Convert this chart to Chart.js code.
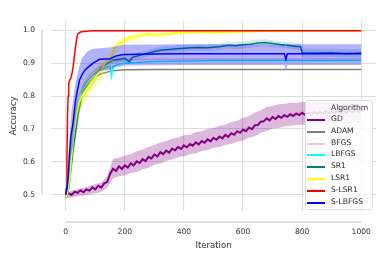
<!DOCTYPE html>
<html>
<head>
<meta charset="utf-8">
<script src="https://cdn.jsdelivr.net/npm/chart.js@4.4.1/dist/chart.umd.min.js"></script>
<style>
    body { margin: 0; background: #fff; }
    #wrap { position: relative; width: 390px; height: 260px; }
    #legend {
        position: absolute; left: 305px; top: 100px; width: 66px; height: 108px;
        border: 1px solid #dddddd; border-radius: 3px; background: rgba(255,255,255,0.85);
        font-family: "DejaVu Sans", sans-serif; font-size: 7.6px; color: #262626;
    }
    #legend .title { position: absolute; left: 25px; top: 2px; }
    #legend .row { position: absolute; left: 0; height: 10px; line-height: 10px; }
    #legend .sw { position: absolute; left: 1px; top: 5px; width: 18px; height: 0; border-top: 2px solid; }
    #legend .lbl { position: absolute; left: 25px; top: 0; white-space: nowrap; }
</style>
</head>
<body>
<div id="wrap">
    <canvas id="chart" width="390" height="260"></canvas>
    <div id="legend"></div>
</div>
<script>
const xTicks = [0, 200, 400, 600, 800, 1000]
const yTicks = [0.5, 0.6, 0.7, 0.8, 0.9, 1.0]

const algorithms = ["GD", "ADAM", "BFGS", "LBFGS", "SR1", "LSR1", "S-LSR1", "S-LBFGS"]
const colors = ["#800080", "#808080", "#ffc0cb", "#00ffff", "#008080", "#ffff00", "#ff0000", "#0000ff"]

// GD
const gdIter = [0,10,20,30,40,50,60,70,80,90,100,110,120,130,140,150,160,170,180,190,200,
    210,220,230,240,250,260,270,280,290,300,310,320,330,340,350,360,370,380,390,400,
    410,420,430,440,450,460,470,480,490,500,510,520,530,540,550,560,570,580,590,600,
    610,620,630,640,650,660,670,680,690,700,710,720,730,740,750,760,770,780,790,800,
    810,820,830,840,850,860,870,880,890,900,910,920,930,940,950,960,970,980,990,1000]
const gdAcc = [0.497,0.504,0.499,0.509,0.505,0.513,0.507,0.516,0.512,0.522,0.516,0.527,0.521,0.534,0.538,0.563,0.579,0.572,0.586,0.578,0.589,
    0.582,0.595,0.589,0.601,0.596,0.608,0.602,0.615,0.610,0.622,0.616,0.629,0.623,0.634,0.628,0.640,0.635,0.645,0.639,0.650,
    0.644,0.654,0.649,0.659,0.653,0.663,0.658,0.668,0.662,0.673,0.667,0.677,0.671,0.682,0.676,0.687,0.682,0.693,0.688,0.698,
    0.693,0.704,0.699,0.711,0.712,0.722,0.723,0.732,0.726,0.736,0.730,0.739,0.734,0.742,0.737,0.745,0.739,0.747,0.742,0.749,
    0.743,0.750,0.744,0.751,0.745,0.752,0.746,0.753,0.747,0.754,0.748,0.755,0.749,0.756,0.750,0.757,0.751,0.758,0.752,0.757]
const gdBandIter = [0,20,40,60,80,100,120,140,160,180,200,220,240,260,280,300,320,340,360,380,400,
    420,440,460,480,500,520,540,560,580,600,620,640,660,680,700,720,740,760,780,800,
    820,840,860,880,900,920,940,960,980,1000]
const gdUpper = [0.505,0.512,0.517,0.521,0.526,0.532,0.537,0.556,0.609,0.612,0.619,0.623,0.632,0.637,0.645,0.651,0.659,0.663,0.670,0.674,0.681,
    0.683,0.690,0.693,0.700,0.703,0.710,0.713,0.721,0.725,0.734,0.739,0.750,0.757,0.767,0.770,0.775,0.776,0.780,0.779,0.783,
    0.781,0.784,0.782,0.785,0.783,0.786,0.784,0.787,0.785,0.788]
const gdLower = [0.488,0.491,0.496,0.497,0.501,0.504,0.508,0.521,0.549,0.556,0.559,0.566,0.569,0.577,0.582,0.591,0.595,0.603,0.607,0.614,0.617,
    0.623,0.626,0.633,0.636,0.642,0.645,0.651,0.654,0.661,0.665,0.673,0.678,0.688,0.694,0.701,0.703,0.708,0.709,0.712,0.713,
    0.714,0.715,0.716,0.716,0.717,0.717,0.718,0.718,0.719,0.719]

// ADAM, BFGS
const adamIter = [0,5,10,15,20,25,30,40,50,60,70,80,90,100,120,140,160,180,200,300,400,500,600,700,800,900,1000]
const adamAcc = [0.49,0.50,0.53,0.58,0.63,0.67,0.71,0.76,0.79,0.815,0.83,0.843,0.852,0.86,0.868,0.873,0.877,0.879,0.88,0.881,0.881,0.881,0.881,0.881,0.881,0.881,0.881]
const bfgsAcc = [0.49,0.50,0.54,0.60,0.65,0.69,0.73,0.78,0.81,0.835,0.85,0.862,0.872,0.88,0.892,0.90,0.905,0.908,0.91,0.912,0.913,0.913,0.913,0.913,0.913,0.913,0.913]

// LBFGS
const lbfgsIter = [0,5,10,15,20,25,30,40,50,60,70,80,90,100,120,140,150,155,160,180,200,300,400,500,600,700,800,900,1000]
const lbfgsAcc = [0.49,0.50,0.53,0.59,0.64,0.68,0.72,0.77,0.80,0.825,0.84,0.852,0.862,0.87,0.88,0.888,0.89,0.86,0.891,0.897,0.90,0.905,0.907,0.908,0.908,0.908,0.908,0.908,0.908]

// SR1
const sr1Iter = [0,5,10,15,20,25,30,36,42,50,58,70,87,100,108,125,142,160,180,200,215,225,250,275,300,
    325,350,375,400,425,450,475,500,525,550,575,600,625,650,675,700,725,750,775,795,800,850,900,950,1000]
const sr1Acc = [0.49,0.50,0.52,0.56,0.60,0.64,0.668,0.71,0.746,0.78,0.814,0.83,0.843,0.86,0.873,0.89,0.90,0.91,0.912,0.915,0.905,0.918,0.924,0.93,0.936,
    0.94,0.942,0.944,0.946,0.947,0.948,0.947,0.949,0.951,0.955,0.953,0.956,0.958,0.962,0.963,0.96,0.957,0.955,0.952,0.95,0.931,0.931,0.932,0.93,0.931]
const sr1Upper = [0.49,0.505,0.53,0.58,0.63,0.67,0.70,0.74,0.775,0.805,0.835,0.85,0.862,0.876,0.887,0.902,0.911,0.92,0.922,0.925,0.92,0.928,0.934,0.94,0.946,
    0.95,0.952,0.954,0.956,0.957,0.958,0.957,0.959,0.961,0.965,0.964,0.967,0.969,0.972,0.973,0.97,0.967,0.965,0.962,0.96,0.945,0.944,0.945,0.943,0.944]
const sr1Lower = [0.49,0.495,0.51,0.54,0.57,0.61,0.635,0.68,0.715,0.755,0.79,0.81,0.824,0.843,0.858,0.877,0.888,0.899,0.902,0.905,0.895,0.908,0.914,0.92,0.926,
    0.93,0.932,0.934,0.936,0.937,0.938,0.937,0.939,0.941,0.945,0.942,0.945,0.947,0.951,0.952,0.949,0.947,0.945,0.942,0.94,0.918,0.918,0.919,0.917,0.918]

// LSR1
const lsr1Iter = [0,5,10,13,18,25,30,36,45,58,70,87,100,110,120,135,154,165,177,190,200,222,250,278,300,340,400,453,500,600,700,800,900,1000]
const lsr1Acc = [0.49,0.50,0.53,0.552,0.60,0.668,0.71,0.746,0.78,0.805,0.822,0.843,0.858,0.872,0.878,0.905,0.918,0.945,0.958,0.965,0.968,0.98,0.984,0.989,0.986,0.989,0.993,0.995,0.994,0.996,0.998,0.999,0.999,0.999]
const lsr1Upper = [0.49,0.51,0.55,0.58,0.63,0.70,0.74,0.775,0.81,0.835,0.852,0.872,0.886,0.897,0.906,0.924,0.942,0.958,0.972,0.976,0.981,0.988,0.991,0.995,0.993,0.995,0.997,0.998,0.998,0.999,1.0,1.0,1.0,1.0]
const lsr1Lower = [0.49,0.49,0.51,0.525,0.57,0.635,0.68,0.715,0.75,0.775,0.79,0.812,0.828,0.84,0.852,0.875,0.895,0.918,0.942,0.946,0.958,0.968,0.975,0.982,0.978,0.982,0.988,0.991,0.99,0.993,0.996,0.998,0.998,0.998]

// S-LSR1
const slsr1Iter = [0,2,4,6,8,10,13,17,21,25,29,33,37,41,50,60,80,100,200,400,600,800,1000]
const slsr1Acc = [0.50,0.52,0.62,0.74,0.80,0.835,0.848,0.855,0.868,0.89,0.92,0.95,0.975,0.99,0.995,0.997,0.998,0.999,0.999,0.999,0.999,0.999,0.999]

// S-LBFGS
const slbfgsIter = [0,4,8,13,18,25,33,40,47,55,64,72,81,95,115,130,149,166,185,200,300,400,500,600,700,740,745,750,800,900,1000]
const slbfgsAcc = [0.50,0.52,0.55,0.63,0.68,0.72,0.785,0.82,0.85,0.865,0.878,0.885,0.892,0.902,0.912,0.913,0.913,0.921,0.925,0.927,0.928,0.929,0.929,0.929,0.929,0.929,0.912,0.929,0.929,0.929,0.929]
const slbfgsUpper = [0.50,0.53,0.58,0.68,0.74,0.79,0.84,0.868,0.895,0.915,0.925,0.935,0.94,0.944,0.946,0.947,0.948,0.952,0.955,0.956,0.957,0.958,0.958,0.958,0.958,0.958,0.95,0.958,0.958,0.958,0.958]
const slbfgsLower = [0.50,0.505,0.52,0.58,0.62,0.65,0.73,0.77,0.80,0.815,0.83,0.84,0.85,0.862,0.876,0.878,0.879,0.886,0.89,0.893,0.894,0.895,0.895,0.895,0.895,0.895,0.88,0.895,0.895,0.895,0.895]

function pts(xs, ys) {
    return xs.map((x, i) => ({x: x, y: ys[i]}))
}

function line(name, xs, ys, color, width) {
    return {label: name, data: pts(xs, ys), borderColor: color, borderWidth: width || 1.5, pointRadius: 0, fill: false}
}

function band(xs, up, low, fillColor) {
    return [
        {label: "", data: pts(xs, up), borderWidth: 0, pointRadius: 0, backgroundColor: fillColor, fill: "+1"},
        {label: "", data: pts(xs, low), borderWidth: 0, pointRadius: 0, fill: false}
    ]
}

let datasets = []
datasets.push(...band(gdBandIter, gdUpper, gdLower, "rgba(128,0,128,0.28)"))
datasets.push(line("GD", gdIter, gdAcc, colors[0], 2))
datasets.push(line("ADAM", adamIter, adamAcc, colors[1]))
datasets.push(line("BFGS", adamIter, bfgsAcc, colors[2]))
datasets.push(line("LBFGS", lbfgsIter, lbfgsAcc, colors[3]))
datasets.push(...band(sr1Iter, sr1Upper, sr1Lower, "rgba(0,128,128,0.18)"))
datasets.push(line("SR1", sr1Iter, sr1Acc, colors[4]))
datasets.push(...band(lsr1Iter, lsr1Upper, lsr1Lower, "rgba(255,255,0,0.3)"))
datasets.push(line("LSR1", lsr1Iter, lsr1Acc, colors[5]))
datasets.push(line("S-LSR1", slsr1Iter, slsr1Acc, colors[6]))
datasets.push(...band(slbfgsIter, slbfgsUpper, slbfgsLower, "rgba(0,0,255,0.3)"))
datasets.push(line("S-LBFGS", slbfgsIter, slbfgsAcc, colors[7]))
// matplotlib draws later series on top
datasets.forEach((d, i) => { d.order = datasets.length - i })

const spines = {
    id: "spines",
    afterDraw(chart) {
        let ctx = chart.ctx
        let xs = chart.scales.x
        let ys = chart.scales.y
        let area = chart.chartArea
        ctx.save()
        ctx.strokeStyle = "#cccccc"
        ctx.lineWidth = 1.25
        ctx.beginPath()
        ctx.moveTo(area.left - 9, ys.getPixelForValue(1.0))
        ctx.lineTo(area.left - 9, ys.getPixelForValue(0.5))
        ctx.moveTo(xs.getPixelForValue(0), area.bottom + 11)
        ctx.lineTo(xs.getPixelForValue(1000), area.bottom + 11)
        ctx.stroke()
        ctx.restore()
    }
}

const font = {family: "DejaVu Sans", size: 7.6}
const titleFont = {family: "DejaVu Sans", size: 8.5}

new Chart(document.getElementById("chart").getContext("2d"), {
    type: "line",
    data: {datasets: datasets},
    options: {
        responsive: false,
        animation: false,
        layout: {padding: {top: 13, right: 14, left: 0, bottom: 0}},
        plugins: {legend: {display: false}, tooltip: {enabled: false}},
        scales: {
            x: {
                type: "linear", min: -50, max: 1050,
                afterBuildTicks: s => { s.ticks = xTicks.map(v => ({value: v})) },
                afterFit: s => { s.height = 49 },
                grid: {color: "#dddddd", lineWidth: 1.1, drawTicks: false},
                border: {display: false},
                ticks: {font: font, color: "#333333", padding: 16, callback: v => String(v)},
                title: {display: true, text: "Iteration", font: titleFont, color: "#333333", padding: {top: 0, bottom: 9}}
            },
            y: {
                type: "linear", min: 0.45, max: 1.03,
                afterBuildTicks: s => { s.ticks = yTicks.map(v => ({value: v})) },
                afterFit: s => { s.width = 51 },
                grid: {color: "#dddddd", lineWidth: 1.1, drawTicks: false},
                border: {display: false},
                ticks: {font: font, color: "#333333", padding: 16, callback: v => v.toFixed(1)},
                title: {display: true, text: "Accuracy", font: titleFont, color: "#333333", padding: {top: 9, bottom: 0}}
            }
        }
    },
    plugins: [spines]
})

// legend
let legend = document.getElementById("legend")
let title = document.createElement("div")
title.className = "title"
title.innerText = "Algorithm"
legend.appendChild(title)
for (let i = 0; i < algorithms.length; i++) {
    let row = document.createElement("div")
    row.className = "row"
    row.style.top = Math.round(13 + i * 11.8) + "px"
    let sw = document.createElement("div")
    sw.className = "sw"
    sw.style.borderColor = colors[i]
    let lbl = document.createElement("div")
    lbl.className = "lbl"
    lbl.innerText = algorithms[i]
    row.appendChild(sw)
    row.appendChild(lbl)
    legend.appendChild(row)
}
</script>
</body>
</html>
